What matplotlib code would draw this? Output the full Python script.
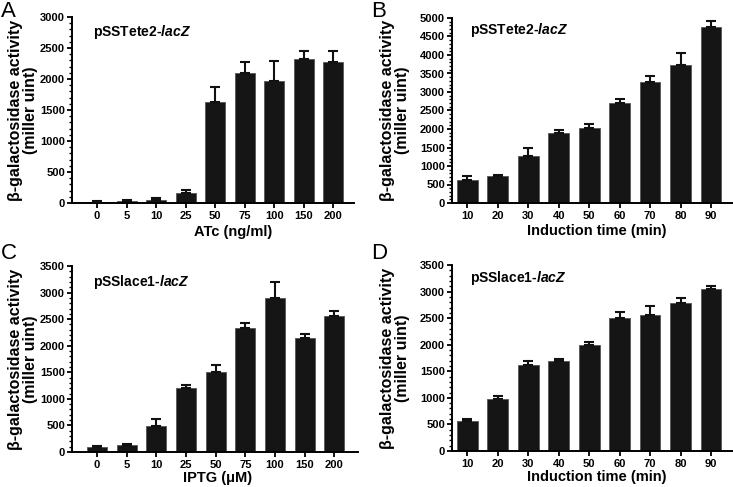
import matplotlib
matplotlib.use("Agg")
import matplotlib.pyplot as plt
from matplotlib.ticker import MultipleLocator
import numpy as np

plt.rcParams['font.family'] = ['Liberation Sans', 'DejaVu Sans']
plt.rcParams['mathtext.fontset'] = 'custom'
plt.rcParams['mathtext.it'] = 'Liberation Sans:bold:italic'
plt.rcParams['mathtext.rm'] = 'Liberation Sans:bold'

# data (mean, upper error)
atc_labels = ['0', '5', '10', '25', '50', '75', '100', '150', '200']
atc_mean = [22, 32, 54, 167, 1627, 2090, 1972, 2322, 2279]
atc_err = [5, 16, 21, 38, 248, 189, 318, 135, 173]

time_labels = ['10', '20', '30', '40', '50', '60', '70', '80', '90']
tete_time_mean = [633, 723, 1257, 1890, 2025, 2703, 3264, 3725, 4756]
tete_time_err = [99, 37, 226, 72, 100, 100, 163, 317, 172]

iptg_labels = ['0', '5', '10', '25', '50', '75', '100', '150', '200']
iptg_mean = [94, 131, 494, 1208, 1502, 2328, 2904, 2153, 2553]
iptg_err = [12, 13, 132, 50, 131, 106, 288, 69, 100]

lace_time_mean = [565, 985, 1619, 1700, 2001, 2497, 2560, 2792, 3055]
lace_time_err = [37, 50, 69, 38, 57, 125, 169, 88, 50]

W, H = 733, 487
fig = plt.figure(figsize=(W / 100, H / 100), dpi=100)


def px_axes(left, right, top, bottom):
    return fig.add_axes([left / W, 1 - bottom / H, (right - left) / W, (bottom - top) / H])


def panel(ax, labels, mean, err, ymax, xlim, note, xlabel, ylab_x, xlab_pos):
    x = np.arange(len(labels))
    ax.bar(x, mean, width=0.68, color='#151515', edgecolor='#555555', linewidth=0.6, zorder=2)
    ax.errorbar(x, mean, yerr=[np.zeros(len(err)), err], fmt='none', ecolor='#111111',
                elinewidth=1.5, capsize=3.5, capthick=1.5, zorder=3)
    ax.set_xlim(*xlim)
    ax.set_ylim(0, ymax)
    ax.set_xticks(x)
    ax.set_xticklabels(labels)
    ax.yaxis.set_major_locator(MultipleLocator(500))
    ax.yaxis.set_minor_locator(MultipleLocator(100))
    for s in ['top', 'right']:
        ax.spines[s].set_visible(False)
    for s in ['left', 'bottom']:
        ax.spines[s].set_linewidth(1.4)
    ax.tick_params(axis='both', which='major', direction='out', length=3.5, width=1.3,
                   labelsize=8)
    ax.tick_params(axis='x', which='major', pad=2)
    ax.tick_params(axis='y', which='major', pad=1.5)
    ax.tick_params(axis='y', which='minor', direction='out', length=2, width=1.0)
    for t in ax.get_xticklabels() + ax.get_yticklabels():
        t.set_fontweight('bold')
    ax.set_ylabel('β-galactosidase activity\n(miller uint)', fontsize=11.5,
                  fontweight='bold', linespacing=1.0, va='center')
    ax.yaxis.set_label_coords(ylab_x, 0.5)
    ax.set_xlabel(xlabel, fontsize=10.5, fontweight='bold', va='center')
    ax.xaxis.set_label_coords(*xlab_pos)
    ax.text(note[1], note[2], note[0], transform=ax.transAxes, fontsize=10,
            fontweight='bold', va='center', ha='left')


axA = px_axes(72, 354, 17, 203)
panel(axA, atc_labels, atc_mean, atc_err, 3000, (-0.85, 8.7),
      (r'pSSTete2-$\mathit{lacZ}$', 0.074, 0.92), 'ATc (ng/ml)', -0.172, (0.57, -0.155))

axB = px_axes(452, 733, 18, 203)
panel(axB, time_labels, tete_time_mean, tete_time_err, 5000, (-0.5, 8.72),
      (r'pSSTete2-$\mathit{lacZ}$', 0.064, 0.935), 'Induction time (min)', -0.203, (0.515, -0.15))

axC = px_axes(72, 358, 266, 452)
panel(axC, iptg_labels, iptg_mean, iptg_err, 3500, (-0.84, 8.8),
      (r'pSSlace1-$\mathit{lacZ}$', 0.073, 0.914), 'IPTG (μM)', -0.172, (0.51, -0.138))

axD = px_axes(452, 733, 265, 451)
panel(axD, time_labels, lace_time_mean, lace_time_err, 3500, (-0.5, 8.72),
      (r'pSSlace1-$\mathit{lacZ}$', 0.064, 0.93), 'Induction time (min)', -0.203, (0.515, -0.138))

for letter, px, py in [('A', 1, 1), ('B', 371, 1), ('C', 1, 243), ('D', 371, 243)]:
    fig.text(px / W, 1 - py / H, letter, fontsize=16, ha='left', va='top')

fig.savefig('out.png', dpi=100)
